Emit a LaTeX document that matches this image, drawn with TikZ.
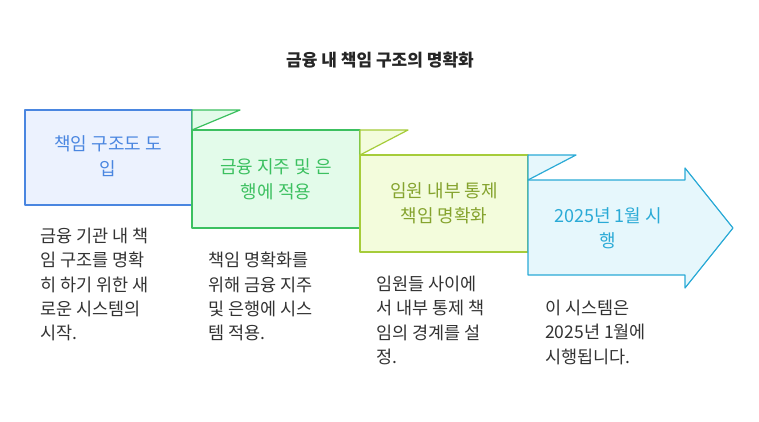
\documentclass[tikz,border=0pt]{standalone}
\usepackage{fontspec}
\setmainfont{Noto Sans CJK KR}
\begin{document}
\begin{tikzpicture}[x=1pt,y=-1pt,
 ptxt/.style={font=\fontsize{18}{25}\selectfont,align=center},
 body/.style={font=\fontsize{17.5}{24.3}\selectfont,align=left,anchor=north west,text=black!80,inner sep=0},
 fold/.style={line width=1.2pt,line join=round}]
\useasboundingbox (0,0) rectangle (759,422);
\definecolor{b1}{HTML}{4A86E0}\definecolor{f1}{HTML}{ECF2FE}
\definecolor{b2}{HTML}{3CC060}\definecolor{f2}{HTML}{E3FBEA}
\definecolor{b3}{HTML}{A6CC3A}\definecolor{f3}{HTML}{F3FCDC}
\definecolor{b4}{HTML}{2AAAD6}\definecolor{f4}{HTML}{E6F7FC}
\node[font=\fontsize{17}{20}\selectfont\bfseries,text=black!85] (title) at (380,60) {금융 내 책임 구조의 명확화};
% panel 1
\draw[fold,draw=b1,fill=f1] (25,110) rectangle (192,205);
\node[ptxt,text=b1] (p1) at (108,156) {책임 구조도 도\\입};
% fold 2
\draw[fold,draw=b2,fill=f2] (192,110) -- (240,110) -- (192,130) -- cycle;
\draw[fold,draw=b2,fill=f2] (192,130) rectangle (360,228);
\node[ptxt,text=b2] (p2) at (276,179) {금융 지주 및 은\\행에 적용};
% fold 3
\draw[fold,draw=b3,fill=f3] (360,130) -- (408,130) -- (360,155) -- cycle;
\draw[fold,draw=b3,fill=f3] (360,155) rectangle (528,252);
\node[ptxt,text=b3!80!black] (p3) at (444,203) {임원 내부 통제\\책임 명확화};
% fold 4 / arrow
\draw[fold,draw=b4,fill=f4] (528,155) -- (576,155) -- (528,180) -- cycle;
\draw[fold,draw=b4,fill=f4] (528,180) -- (685,180) -- (685,168) -- (733,228) -- (685,288) -- (685,275) -- (528,275) -- cycle;
\node[ptxt,text=b4] (p4) at (608,228) {2025년 1월 시\\행};
% bodies
\node[body] (t1) at (40,228) {금융 기관 내 책\\임 구조를 명확\\히 하기 위한 새\\로운 시스템의\\시작.};
\node[body] (t2) at (208,252) {책임 명확화를\\위해 금융 지주\\및 은행에 시스\\템 적용.};
\node[body] (t3) at (376,276) {임원들 사이에\\서 내부 통제 책\\임의 경계를 설\\정.};
\node[body] (t4) at (545,300) {이 시스템은\\2025년 1월에\\시행됩니다.};
\end{tikzpicture}
\end{document}
